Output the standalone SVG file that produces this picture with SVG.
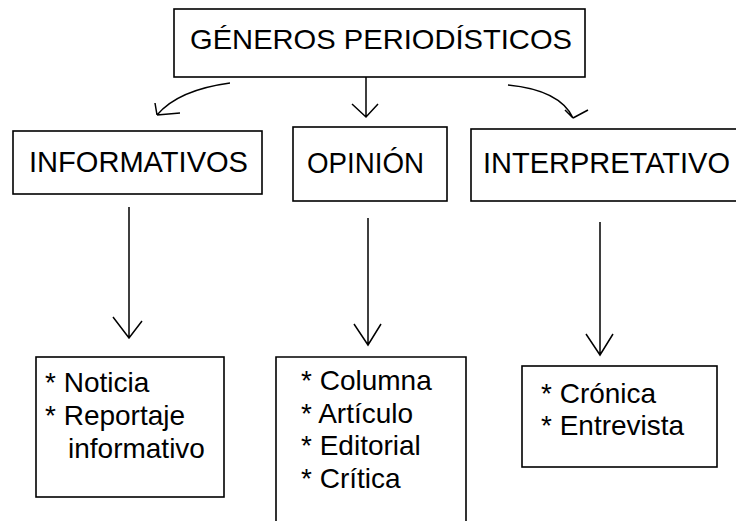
<svg xmlns="http://www.w3.org/2000/svg" width="736" height="521" viewBox="0 0 736 521">
<style>
.box{fill:none;stroke:#000;stroke-width:1.6}
.t{font-family:"Liberation Sans",Arial,sans-serif;fill:#000}
.big{font-size:28px}
.mid{font-size:30px}
.lst{font-size:28px}
.c{fill:none;stroke:#000;stroke-width:1.5}
</style>
<rect width="736" height="521" fill="#fff"/>
<g id="n-generos">
<rect class="box" x="174" y="9" width="411" height="68"/>
<text class="t big" x="190" y="49" textLength="382" lengthAdjust="spacingAndGlyphs">GÉNEROS PERIODÍSTICOS</text>
</g>
<g id="n-informativos">
<rect class="box" x="13" y="131" width="249" height="63"/>
<text class="t mid" x="29" y="172" textLength="219" lengthAdjust="spacingAndGlyphs">INFORMATIVOS</text>
</g>
<g id="n-opinion">
<rect class="box" x="293" y="127" width="154" height="74"/>
<text class="t mid" x="307" y="173" textLength="117" lengthAdjust="spacingAndGlyphs">OPINIÓN</text>
</g>
<g id="n-interpretativo">
<rect class="box" x="471" y="129" width="275" height="72"/>
<text class="t mid" x="483" y="173" textLength="247" lengthAdjust="spacingAndGlyphs">INTERPRETATIVO</text>
</g>
<g id="n-list1">
<rect class="box" x="36" y="357" width="188" height="140"/>
<text class="t lst" x="45" y="392">* Noticia</text>
<text class="t lst" x="45" y="425">* Reportaje</text>
<text class="t lst" x="68" y="458">informativo</text>
</g>
<g id="n-list2">
<path class="box" d="M276,530 V357 H466 V530"/>
<text class="t lst" x="301" y="390">* Columna</text>
<text class="t lst" x="301" y="423">* Artículo</text>
<text class="t lst" x="301" y="455">* Editorial</text>
<text class="t lst" x="301" y="488">* Crítica</text>
</g>
<g id="n-list3">
<rect class="box" x="522" y="366" width="195" height="101"/>
<text class="t lst" x="541" y="403">* Crónica</text>
<text class="t lst" x="541" y="435">* Entrevista</text>
</g>
<g id="connectors">
<path class="c" d="M230,83 Q178,90 157,115 M157,115 L180,113 M157,115 L155,103"/>
<path class="c" d="M366,77 V117 M352,104 L366,117 L378,104"/>
<path class="c" d="M508,85 Q560,90 573,118 M573,118 L565,110 M573,118 L588,110"/>
<path class="c" d="M129,207 V338 M113,317 L129,338 L142,321"/>
<path class="c" d="M368,218 V345 M354,324 L368,345 L381,324"/>
<path class="c" d="M600,222 V355 M586,334 L600,355 L613,334"/>
</g>
</svg>
